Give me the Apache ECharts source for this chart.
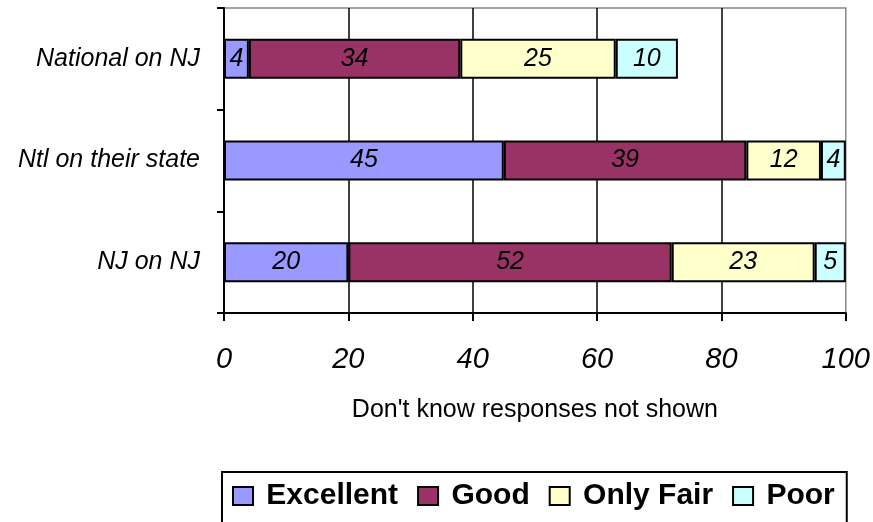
<!DOCTYPE html>
<html>
<head>
<meta charset="utf-8">
<script src="https://cdn.jsdelivr.net/npm/echarts@6/dist/echarts.min.js"></script>
<style>
  html, body { margin: 0; padding: 0; background: #fff; }
  #chart { width: 873px; height: 522px; }
</style>
</head>
<body>
<div id="chart"></div>
<script>
// categories, top to bottom
const categories = ["National on NJ", "Ntl on their state", "NJ on NJ"];
const excellent = [4, 45, 20];
const good = [34, 39, 52];
const onlyFair = [25, 12, 23];
const poor = [10, 4, 5];
const xTicks = [0, 20, 40, 60, 80, 100];

const font = "Arial, 'Liberation Sans', sans-serif";

function makeSeries(name, data, color) {
  return {
    name: name,
    type: "bar",
    stack: "total",
    barWidth: 40,
    data: data,
    itemStyle: { color: color, borderColor: "#000", borderWidth: 2 },
    label: {
      show: true,
      position: "inside",
      color: "#000",
      fontStyle: "italic",
      fontSize: 25,
      fontFamily: font
    }
  };
}

const chart = echarts.init(document.getElementById("chart"));
chart.setOption({
  backgroundColor: "#fff",
  animation: false,
  grid: {
    left: 224, right: 24, top: 8, bottom: 209,
    show: true, borderColor: "#888", borderWidth: 1.5
  },
  legend: {
    left: 222, top: 472,
    padding: [9, 12, 14, 10],
    itemGap: 19,
    itemWidth: 20,
    itemHeight: 18,
    borderColor: "#000",
    borderWidth: 2,
    icon: "rect",
    formatter: function (n) { return " " + n; },
    textStyle: { fontSize: 30, fontWeight: "bold", color: "#000", fontFamily: font },
    data: ["Excellent", "Good", "Only Fair", "Poor"]
  },
  xAxis: {
    type: "value",
    min: xTicks[0],
    max: xTicks[xTicks.length - 1],
    interval: 20,
    name: "Don't know responses not shown",
    nameLocation: "middle",
    nameGap: 85,
    nameTextStyle: { fontSize: 25, color: "#000", fontFamily: font },
    axisLine: { show: true, lineStyle: { color: "#000", width: 2 } },
    axisTick: { show: true, length: 8, lineStyle: { color: "#000", width: 2 } },
    axisLabel: {
      margin: 32, fontSize: 29, fontStyle: "italic", color: "#000", fontFamily: font,
      formatter: function (v) { return xTicks.indexOf(v) >= 0 ? String(v) : ""; }
    },
    splitLine: { show: true, showMaxLine: false, lineStyle: { color: "#000", width: 1.5 } }
  },
  yAxis: {
    type: "category",
    inverse: true,
    data: categories,
    axisLine: { show: true, lineStyle: { color: "#000", width: 2 } },
    axisTick: { show: true, length: 7, lineStyle: { color: "#000", width: 2 } },
    axisLabel: {
      margin: 24, fontSize: 25, fontStyle: "italic", color: "#000", fontFamily: font
    }
  },
  series: [
    makeSeries("Excellent", excellent, "#9999FF"),
    makeSeries("Good", good, "#993366"),
    makeSeries("Only Fair", onlyFair, "#FFFFCC"),
    makeSeries("Poor", poor, "#CCFFFF")
  ]
});
</script>
</body>
</html>
